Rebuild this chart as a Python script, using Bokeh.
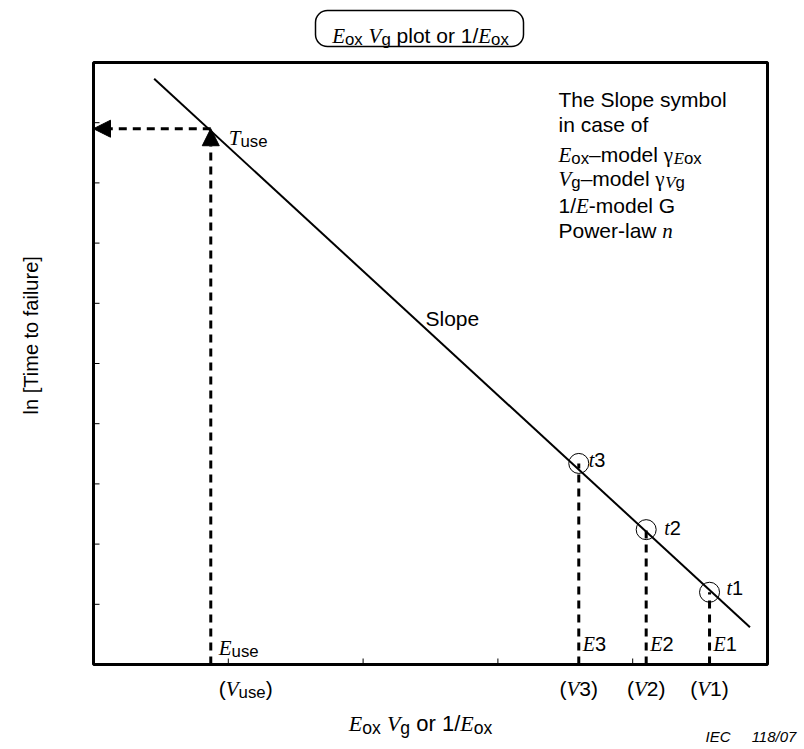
import math
from bokeh.plotting import figure
from bokeh.models import Range1d, Label, Arrow, NormalHead, BoxAnnotation
from bokeh.embed import file_html
from bokeh.resources import INLINE

# ---------------- data ----------------
x_min, x_max = 0, 5            # axis domain (arbitrary units)
y_min, y_max = 0, 10
x_ticks = [1, 2, 3, 4]
y_ticks = [1, 2, 3, 4, 5, 6, 7, 8, 9]
line_x = [0.45, 4.87]          # fitted ln(TTF) line, start / end
line_y = [9.73, 0.62]
use_x = 0.87                   # use condition
use_y = 8.90                   # extrapolated T_use
stress_x = [4.57, 4.10, 3.60]  # E1, E2, E3
life_y = [1.20, 2.24, 3.34]    # t1, t2, t3
stress_ids = ["1", "2", "3"]

# ---------------- layout ----------------
W, H = 804, 749
BOX_L, BOX_R, BOX_T, BOX_B = 93, 767, 62, 664     # plot box in pixels
kx = (BOX_R - BOX_L) / (x_max - x_min)
ky = (BOX_B - BOX_T) / (y_max - y_min)
x_range = Range1d(x_min - BOX_L / kx, x_max + (W - BOX_R) / kx)
y_range = Range1d(y_min - (H - BOX_B) / ky, y_max + BOX_T / ky)

# ---------------- fonts / metrics ----------------
SANS = "Liberation Sans"
SERIF = "Liberation Serif"
W_SANS = {' ': 278, '(': 333, ')': 333, '-': 333, '/': 278, '[': 278, ']': 278,
          '–': 556, 'C': 722, 'E': 667, 'G': 778, 'I': 278, 'P': 667, 'S': 667, 'T': 611,
          'a': 556, 'b': 556, 'c': 500, 'd': 556, 'e': 556, 'f': 278, 'g': 556, 'h': 556,
          'i': 222, 'l': 222, 'm': 833, 'n': 556, 'o': 556, 'p': 556, 'r': 333, 's': 500,
          't': 278, 'u': 556, 'w': 722, 'x': 500, 'y': 500}
W_SERIF = {'E': 611, 'V': 611, 'T': 556, 't': 278, 'n': 500, 'γ': 470, ' ': 250}


def text_width(t, kind, size):
    table = W_SANS if kind in ("s", "si") else W_SERIF
    return sum(table.get(c, 556) for c in t) * size / 1000.0


BASE = 21
SUB = 0.8
SHIFT = 4


def rich(p, x, y, pieces, x_units="screen", y_units="screen", align="left",
         size=BASE, dx=0.0, dy=0.0):
    """pieces: (text, kind[, sub]); kind: s=sans, i=serif italic, g=serif upright, si=sans italic"""
    norm = []
    for pc in pieces:
        t, k = pc[0], pc[1]
        sub = pc[2] if len(pc) > 2 else False
        fs = size * (SUB if sub else 1.0)
        norm.append((t, k, fs, SHIFT if sub else 0))
    total = sum(text_width(t, k, fs) for t, k, fs, sh in norm)
    off = dx - (total / 2 if align == "center" else total if align == "right" else 0)
    for t, k, fs, sh in norm:
        lead = len(t) - len(t.lstrip(" "))
        s = t.strip(" ")
        if s:
            p.add_layout(Label(
                x=x, y=y, x_units=x_units, y_units=y_units, text=s,
                x_offset=off + text_width(t[:lead], k, fs), y_offset=dy - sh,
                text_font=SERIF if k in ("i", "g") else SANS,
                text_font_style="italic" if k in ("i", "si") else "normal",
                text_font_size=f"{fs:.1f}px", text_color="black",
                text_align="left", text_baseline="alphabetic"))
        off += text_width(t, k, fs)


def scr(px, py):
    """canvas pixel (from top-left) -> screen units (from bottom-left)"""
    return px, H - py


# ---------------- figure ----------------
p = figure(width=W, height=H, x_range=x_range, y_range=y_range, title=None,
           output_backend="svg", toolbar_location=None,
           x_axis_location=None, y_axis_location=None, min_border=0)
p.grid.visible = False
p.outline_line_color = None
p.background_fill_color = "white"
p.border_fill_color = "white"

# plot box and inward ticks
p.quad(left=x_min, right=x_max, bottom=y_min, top=y_max, fill_color=None,
       line_color="black", line_width=3)
p.ray(x=x_ticks, y=[y_min] * len(x_ticks), length=6, angle=math.pi / 2,
      length_units="screen", line_color="black", line_width=1)
p.ray(x=[x_min] * len(y_ticks), y=y_ticks, length=6, angle=0,
      length_units="screen", line_color="black", line_width=1)

DASH = "8 6"
# fitted line
p.line(line_x, line_y, line_color="black", line_width=2)
# projections of the stress points
p.segment(x0=stress_x, y0=[y_min] * len(stress_x), x1=stress_x, y1=life_y,
          line_color="black", line_width=3, line_dash=DASH)
p.scatter(stress_x, life_y, marker="circle", size=20, fill_color=None,
          line_color="black", line_width=1)
# use condition arrows
p.add_layout(Arrow(end=NormalHead(size=17, fill_color="black", line_color="black"),
                   x_start=use_x, y_start=use_y, x_end=x_min, y_end=use_y,
                   line_color="black", line_width=3, line_dash=DASH))
p.add_layout(Arrow(end=NormalHead(size=17, fill_color="black", line_color="black"),
                   x_start=use_x, y_start=y_min, x_end=use_x, y_end=use_y,
                   line_color="black", line_width=3, line_dash=DASH))

# ---------------- labels ----------------
rich(p, use_x, use_y, [("T", "i"), ("use", "s", True)], "data", "data", dx=18, dy=-9, size=21)
t_off = {"1": (17, 4), "2": (18, 2), "3": (10, 3)}
for xv, yv, sid in zip(stress_x, life_y, stress_ids):
    ox, oy = t_off[sid]
    rich(p, xv, yv, [("t", "i"), (sid, "s")], "data", "data", dx=ox, dy=oy, size=20)
for xv, sid in zip(stress_x, stress_ids):
    rich(p, xv, y_min, [("E", "i"), (sid, "s")], "data", "data", dx=4, dy=21, size=20)
rich(p, use_x, y_min, [("E", "i"), ("use", "s", True)], "data", "data", dx=8, dy=17, size=21)

# V labels under the axis
_, v_y = scr(0, 688)
for xv, sid in zip(stress_x, stress_ids):
    rich(p, xv, v_y, [("(", "s"), ("V", "i"), (sid, "s"), (")", "s")], "data", "screen",
         align="center", size=21)
rich(p, use_x, v_y, [("(", "s"), ("V", "i"), ("use", "s", True), (")", "s")], "data", "screen",
     dx=8, size=21)

# slope label
rich(p, *scr(425, 318), [("Slope", "s")])

# explanation block
block = [
    [("The Slope symbol", "s")],
    [("in case of", "s")],
    [("E", "i"), ("ox", "s", True), ("–model ", "s"), ("γ", "g"), ("E", "i", True), ("ox", "s", True)],
    [("V", "i"), ("g", "s", True), ("–model ", "s"), ("γ", "g"), ("V", "i", True), ("g", "s", True)],
    [("1/", "s"), ("E", "i"), ("-model G", "s")],
    [("Power-law ", "s"), ("n", "i")],
]
block_py = [99, 124, 154, 178, 205, 230]
for pcs, by in zip(block, block_py):
    rich(p, *scr(558, by), pcs)

# axis titles
rich(p, *scr(420, 723), [("E", "i"), ("ox", "s", True), (" ", "s"), ("V", "i"), ("g", "s", True),
                         (" or 1/", "s"), ("E", "i"), ("ox", "s", True)], align="center", size=22)
yl_x, yl_y = scr(30, 332)
p.add_layout(Label(x=yl_x, y=yl_y, x_units="screen", y_units="screen", text="ln  [Time to failure]",
                   angle=math.pi / 2, text_align="center", text_baseline="alphabetic",
                   text_font=SANS, text_font_size="20px", text_color="black"))

# title box
bl, bt = scr(315, 10)
br, bb = scr(523, 46)
box_kw = dict(left=bl, right=br, top=bt, bottom=bb, left_units="screen", right_units="screen",
              top_units="screen", bottom_units="screen", fill_color=None, fill_alpha=0,
              line_color="black", line_width=1.5, line_alpha=1)
try:
    box = BoxAnnotation(border_radius=12, **box_kw)
except Exception:
    box = BoxAnnotation(**box_kw)
p.add_layout(box)
rich(p, *scr(420, 35), [("E", "i"), ("ox", "s", True), (" ", "s"), ("V", "i"), ("g", "s", True),
                        (" plot or 1/", "s"), ("E", "i"), ("ox", "s", True)], align="center")

# source tag
rich(p, *scr(797, 736), [("118/07", "si")], align="right", size=15)
rich(p, *scr(730, 736), [("IEC", "si")], align="right", size=15)

open("out.html", "w").write(file_html(p, INLINE))
